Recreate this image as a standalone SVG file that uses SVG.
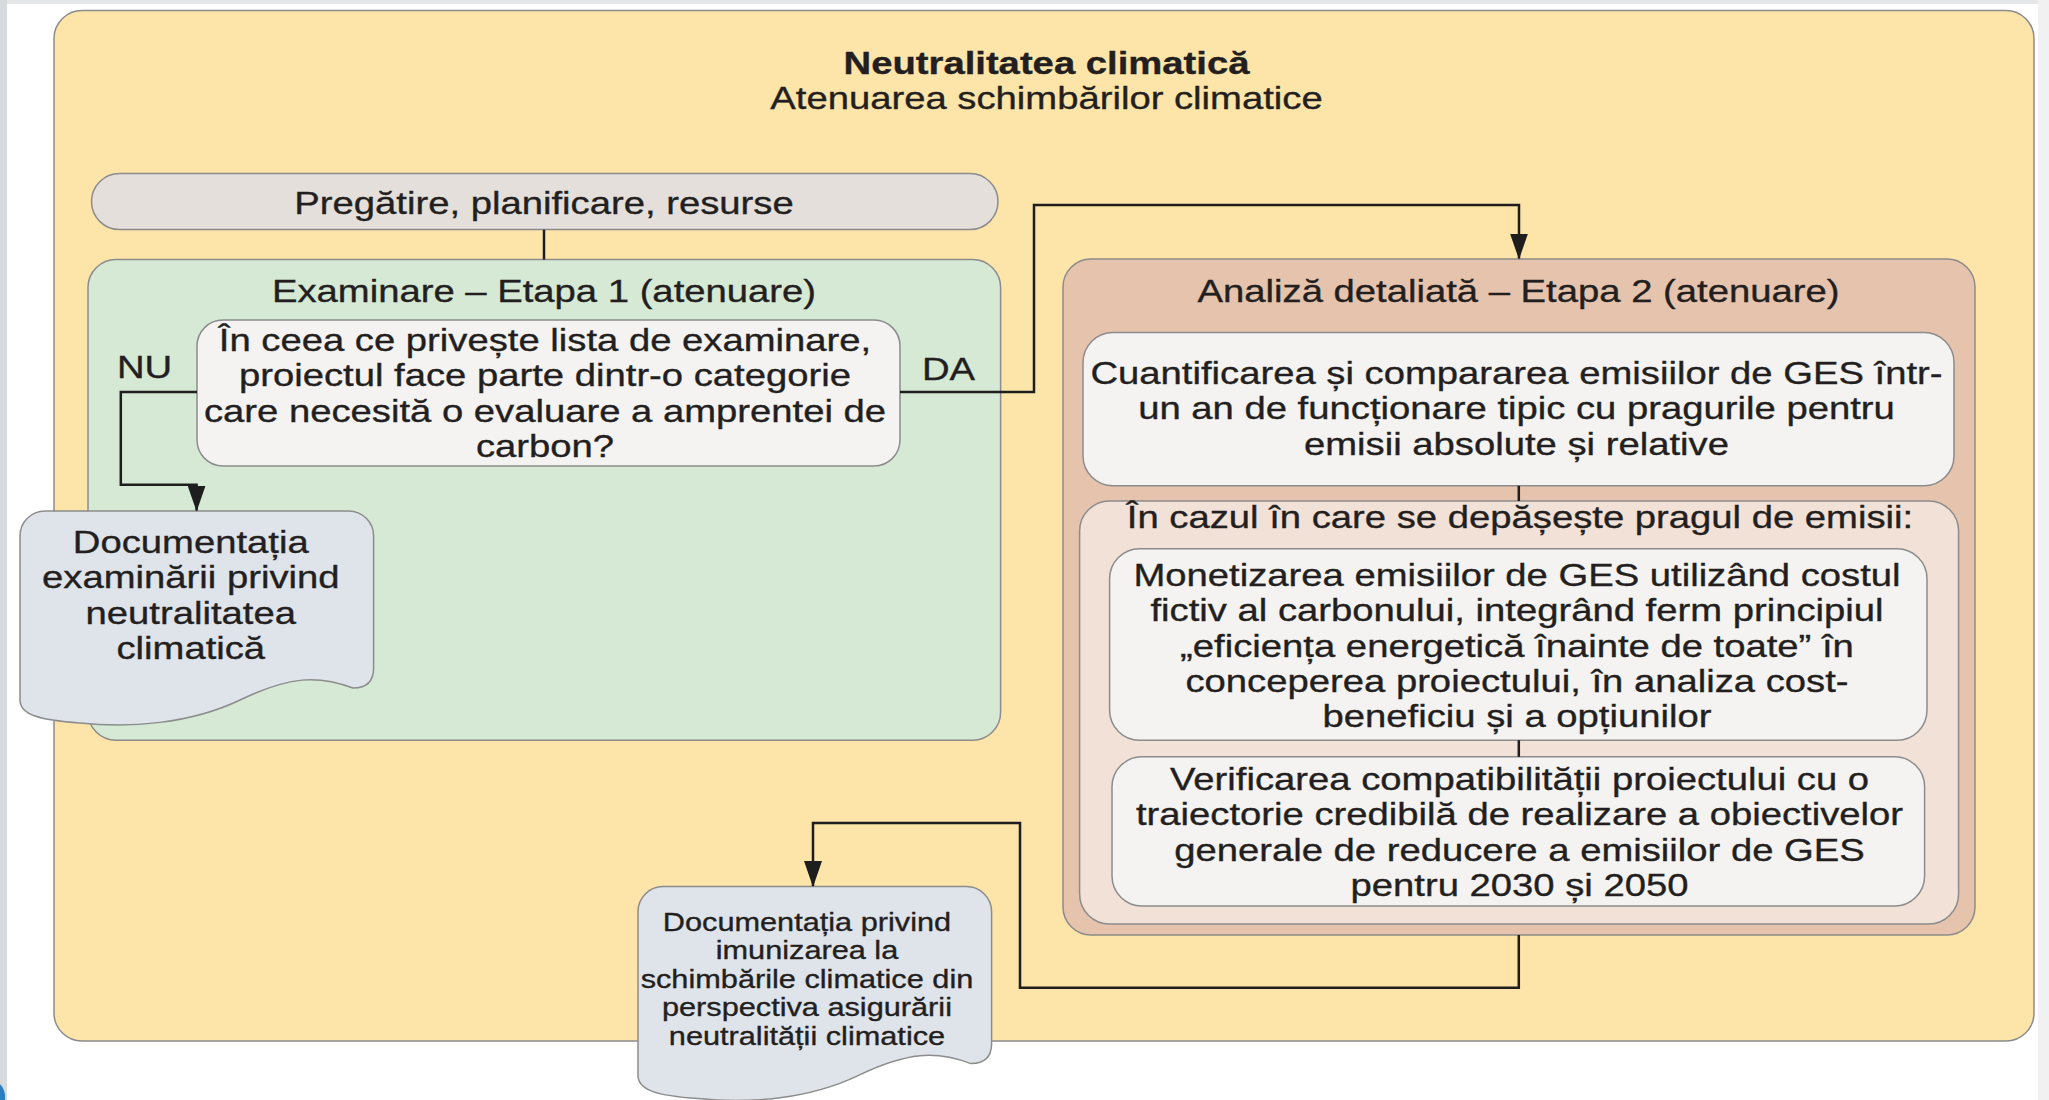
<svg xmlns="http://www.w3.org/2000/svg" width="2049" height="1100" viewBox="0 0 2049 1100">
<defs>
<style>
text{font-family:"Liberation Sans",Arial,sans-serif;font-size:32px;fill:#231f20;stroke:#231f20;stroke-width:0.35;text-anchor:middle}
.b{font-weight:bold}
.sm{font-size:25.7px}
.box{stroke:#8c8c8c;stroke-width:1.5}
.plain{fill:#f4f3f1}
.doc{fill:#dfe3ea}
.conn{fill:none;stroke:#1e1e1e;stroke-width:2.5}
</style>
<marker id="arr" markerUnits="userSpaceOnUse" markerWidth="26" markerHeight="18" refX="25" refY="9" orient="auto">
<path d="M0,0 L26,9 L0,18 z" fill="#1e1e1e"/>
</marker>
<path id="docshape" d="M20,536 A25,25 0 0 1 45,511 L348.6,511 A25,25 0 0 1 373.6,536 L373.6,668 Q373.6,688 353,688 C318,675 290,676 240,700 C190,724 130,728 80,723 C40,720 20,715 20,700 Z"/>
</defs>
<rect width="2049" height="1100" fill="#ffffff"/>
<rect x="0" y="0" width="2049" height="4" fill="#e4e6e7"/>
<rect x="0" y="0" width="7" height="1100" fill="#d8dbdd"/>
<rect x="2038" y="0" width="11" height="1100" fill="#f1f1f1"/>
<path d="M0,1084 Q6,1090 5,1100 L0,1100 Z" fill="#2a7fc0"/>

<g id="frame">
<rect class="box" x="54" y="10.5" width="1980" height="1030.5" rx="28" fill="#fde4a8"/>
<g transform="matrix(1.195 0 0 1 -204.07 0)">
<text class="b" x="1046.5" y="74">Neutralitatea climatică</text>
<text x="1046.5" y="109">Atenuarea schimbărilor climatice</text>
</g>
</g>

<g id="pregatire">
<rect class="box" x="91.5" y="173.6" width="906.5" height="56" rx="28" fill="#e4dfdb"/>
<text transform="matrix(1.195 0 0 1 -106.08 0)" x="544" y="214">Pregătire, planificare, resurse</text>
</g>

<g id="etapa1">
<rect class="box" x="88" y="259.6" width="912.6" height="480.6" rx="28" fill="#d6e9d5"/>
<text transform="matrix(1.195 0 0 1 -106.08 0)" x="544" y="302">Examinare – Etapa 1 (atenuare)</text>
</g>

<g id="intrebare">
<rect class="box plain" x="197" y="320" width="703" height="146" rx="26"/>
<g transform="matrix(1.195 0 0 1 -106.28 0)">
<text x="545" y="351">În ceea ce privește lista de examinare,</text>
<text x="545" y="386.3">proiectul face parte dintr-o categorie</text>
<text x="545" y="421.6">care necesită o evaluare a amprentei de</text>
<text x="545" y="456.9">carbon?</text>
</g>
</g>

<g id="etapa2">
<rect class="box" x="1063" y="259" width="912" height="676" rx="28" fill="#e6c3ac"/>
<text transform="matrix(1.195 0 0 1 -296.11 0)" x="1518.5" y="302">Analiză detaliată – Etapa 2 (atenuare)</text>
</g>

<g id="cuantificare">
<rect class="box plain" x="1083" y="332.5" width="871" height="153.3" rx="30"/>
<g transform="matrix(1.195 0 0 1 -295.72 0)">
<text x="1516.5" y="384">Cuantificarea și compararea emisiilor de GES într-</text>
<text x="1516.5" y="419.5">un an de funcționare tipic cu pragurile pentru</text>
<text x="1516.5" y="455">emisii absolute și relative</text>
</g>
</g>

<g id="depasire">
<rect class="box" x="1079.6" y="501" width="879" height="423" rx="30" fill="#f2e1d6"/>
<text transform="matrix(1.195 0 0 1 -296.4 0)" x="1520" y="528.5">În cazul în care se depășește pragul de emisii:</text>
</g>

<g id="monetizare">
<rect class="box plain" x="1109.6" y="548.7" width="817.4" height="191.5" rx="30"/>
<g transform="matrix(1.195 0 0 1 -295.82 0)">
<text x="1517" y="586">Monetizarea emisiilor de GES utilizând costul</text>
<text x="1517" y="621.3">fictiv al carbonului, integrând ferm principiul</text>
<text x="1517" y="656.6">„eficiența energetică înainte de toate” în</text>
<text x="1517" y="691.9">conceperea proiectului, în analiza cost-</text>
<text x="1517" y="727.2">beneficiu și a opțiunilor</text>
</g>
</g>

<g id="verificare">
<rect class="box plain" x="1112" y="756.8" width="812.6" height="149.2" rx="30"/>
<g transform="matrix(1.195 0 0 1 -296.3 0)" xml:space="preserve">
<text x="1519.5" y="790">Verificarea compatibilității proiectului  cu o</text>
<text x="1519.5" y="825.3">traiectorie credibilă de realizare a  obiectivelor</text>
<text x="1519.5" y="860.6">generale de reducere a emisiilor de GES</text>
<text x="1519.5" y="895.9">pentru 2030 și 2050</text>
</g>
</g>

<g id="doc-examinare">
<use href="#docshape" class="box doc"/>
<g transform="matrix(1.195 0 0 1 -37.21 0)">
<text x="190.8" y="553">Documentația</text>
<text x="190.8" y="588.5">examinării privind</text>
<text x="190.8" y="624">neutralitatea</text>
<text x="190.8" y="659.5">climatică</text>
</g>
</g>

<g id="doc-imunizare">
<use href="#docshape" class="box doc" transform="translate(618 375.6)"/>
<g transform="matrix(1.195 0 0 1 -157.37 0)">
<text class="sm" x="807" y="931">Documentația privind</text>
<text class="sm" x="807" y="959.5">imunizarea la</text>
<text class="sm" x="807" y="988">schimbările climatice din</text>
<text class="sm" x="807" y="1016.5">perspectiva asigurării</text>
<text class="sm" x="807" y="1045">neutralității climatice</text>
</g>
</g>

<g id="connectors">
<path class="conn" d="M544,229.7 V259.6"/>
<path class="conn" d="M197,392 H120.8 V484.7 H196.6 V510.5" marker-end="url(#arr)"/>
<path class="conn" d="M900,392 H1034 V205 H1519 V258.5" marker-end="url(#arr)"/>
<path class="conn" d="M1518.8,485.8 V501"/>
<path class="conn" d="M1518.8,740.2 V756.8"/>
<path class="conn" d="M1518.8,935 V987.7 H1020 V823 H813 V886" marker-end="url(#arr)"/>
<g transform="matrix(1.195 0 0 1 -28.18 0)"><text x="144.5" y="378">NU</text></g>
<g transform="matrix(1.195 0 0 1 -184.96 0)"><text x="948.5" y="380">DA</text></g>
</g>
</svg>
